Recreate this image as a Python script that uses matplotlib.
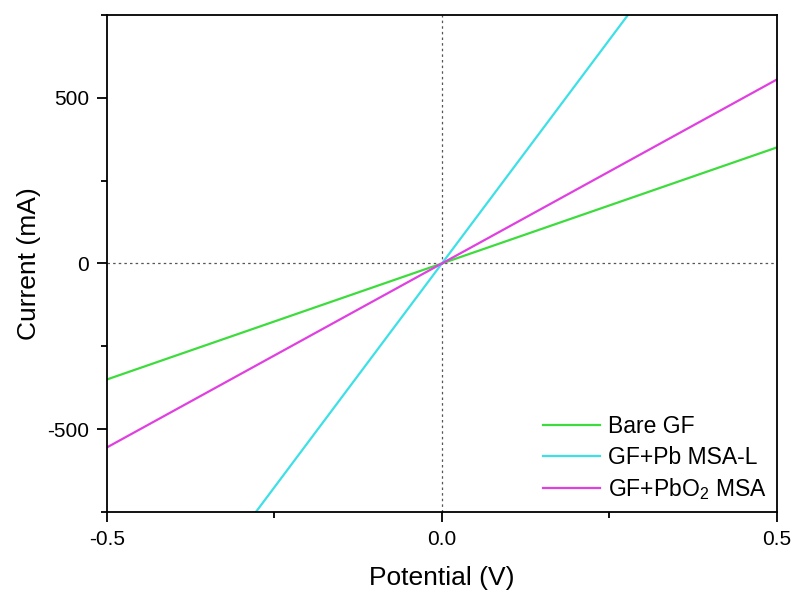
import matplotlib
matplotlib.use("Agg")
import matplotlib.pyplot as plt
from matplotlib.ticker import MultipleLocator, FormatStrFormatter

plt.rcParams['font.family'] = ['Liberation Sans', 'DejaVu Sans']
plt.rcParams['mathtext.fontset'] = 'custom'
plt.rcParams['mathtext.rm'] = 'Liberation Sans'

potential = [-0.5, 0.0, 0.5]
bare_gf = [-350, 0, 350]
gf_pb = [-1350, 0, 1350]
gf_pbo2 = [-555, 0, 555]

labels = ["Bare GF", "GF+Pb MSA-L", r"GF+PbO$_\mathregular{2}$ MSA"]
colors = ["#3ddc3d", "#3de0e6", "#e040e0"]

fig = plt.figure(figsize=(7.92, 5.92), dpi=100)
ax = fig.add_axes([0.135, 0.135, 0.846, 0.84])

ax.axhline(0, color="#555555", lw=0.9, ls=(0, (2, 2.5)), zorder=1)
ax.axvline(0, color="#555555", lw=0.9, ls=(0, (2, 2.5)), zorder=1)

for y, lab, c in zip([bare_gf, gf_pb, gf_pbo2], labels, colors):
    ax.plot(potential, y, color=c, lw=1.6, label=lab, zorder=2)

ax.set_xlim(-0.5, 0.5)
ax.set_ylim(-750, 750)
ax.xaxis.set_major_locator(MultipleLocator(0.5))
ax.xaxis.set_minor_locator(MultipleLocator(0.25))
ax.yaxis.set_major_locator(MultipleLocator(500))
ax.yaxis.set_minor_locator(MultipleLocator(250))
ax.xaxis.set_major_formatter(FormatStrFormatter('%.1f'))
ax.yaxis.set_major_formatter(FormatStrFormatter('%d'))

ax.tick_params(which='major', direction='out', length=7, width=1.3, labelsize=15, pad=6)
ax.tick_params(which='minor', direction='out', length=4, width=1.3)
for s in ax.spines.values():
    s.set_linewidth(1.3)

ax.set_xlabel("Potential (V)", fontsize=19, labelpad=12)
ax.set_ylabel("Current (mA)", fontsize=19, labelpad=4)

ax.legend(loc="lower right", frameon=False, fontsize=16.5, handlelength=2.5,
          handletextpad=0.35, labelspacing=0.32, borderaxespad=0.05)

fig.savefig("out.png", dpi=100)
